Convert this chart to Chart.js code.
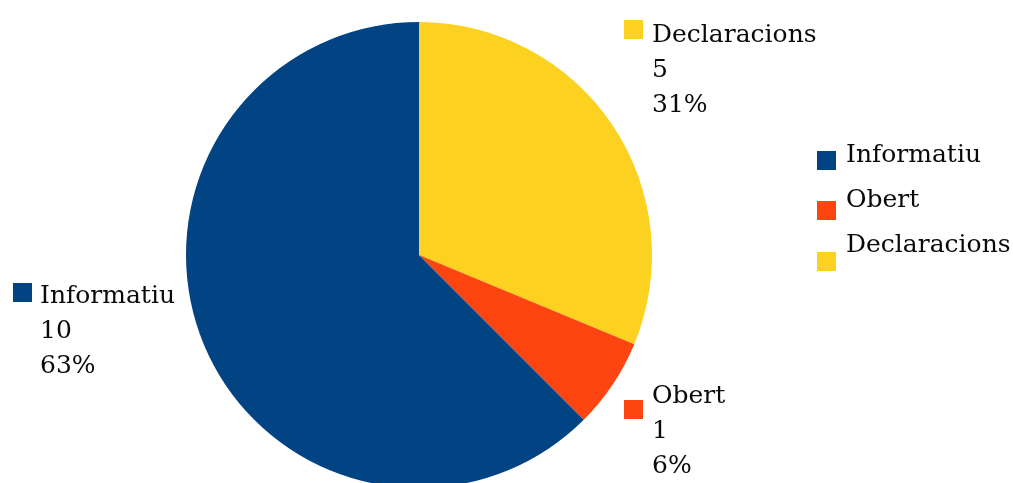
<!DOCTYPE html>
<html>
<head>
<meta charset="utf-8">
<title>Informatiu / Obert / Declaracions</title>
<script src="https://cdn.jsdelivr.net/npm/chart.js@4/dist/chart.umd.min.js"></script>
<style>
  html, body { margin: 0; padding: 0; background: #ffffff; overflow: hidden; }
  #wrap { position: relative; width: 1013px; height: 500px; }
</style>
</head>
<body>
<div id="wrap"><canvas id="pie"></canvas></div>
<script>
// Categories and counts
const categories = ['Informatiu', 'Obert', 'Declaracions'];
const counts = [10, 1, 5];
const sliceColors = ['#024384', '#FD4512', '#FDD11F'];

// Slices are drawn clockwise from the top starting with the last category
const drawOrder = [2, 1, 0];

const FONT = '"DejaVu Serif", "Liberation Serif", serif';
const FONT_SIZE = 25;
const TEXT_COLOR = '#0a0a0a';
const LINE_H = 35;

// Label placement relative to the pie centre (px): square top-left, text start
const labelPlacement = {
  'Declaracions': { sq: [205, -235], tx: [233, -213] },
  'Obert':        { sq: [205, 145],  tx: [233, 148] },
  'Informatiu':   { sq: [-406, 28],  tx: [-379, 48] }
};

// Legend entries on the right (canvas px)
const legendRows = [
  { sqTop: 151, baseline: 162 },
  { sqTop: 201, baseline: 207 },
  { sqTop: 252, baseline: 252 }
];
const LEGEND_SQ_X = 817, LEGEND_TX_X = 846, SQ = 19;

const total = counts.reduce((a, b) => a + b, 0);

const sliceLabels = {
  id: 'sliceLabels',
  afterDatasetsDraw(chart) {
    const ctx = chart.ctx;
    const meta = chart.getDatasetMeta(0);
    ctx.save();
    ctx.font = FONT_SIZE + 'px ' + FONT;
    ctx.textBaseline = 'alphabetic';
    ctx.textAlign = 'left';
    meta.data.forEach((arc, i) => {
      const idx = drawOrder[i];
      const name = categories[idx];
      const p = labelPlacement[name];
      const cx = arc.x, cy = arc.y;
      ctx.fillStyle = sliceColors[idx];
      ctx.fillRect(cx + p.sq[0], cy + p.sq[1], SQ, SQ);
      ctx.fillStyle = TEXT_COLOR;
      const pct = Math.round(counts[idx] / total * 100) + '%';
      [name, String(counts[idx]), pct].forEach((line, k) => {
        ctx.fillText(line, cx + p.tx[0], cy + p.tx[1] + k * LINE_H);
      });
    });
    // legend
    categories.forEach((name, i) => {
      const r = legendRows[i];
      ctx.fillStyle = sliceColors[i];
      ctx.fillRect(LEGEND_SQ_X, r.sqTop, SQ, SQ);
      ctx.fillStyle = TEXT_COLOR;
      ctx.fillText(name, LEGEND_TX_X, r.baseline);
    });
    ctx.restore();
  }
};

new Chart(document.getElementById('pie'), {
  type: 'pie',
  data: {
    labels: drawOrder.map(i => categories[i]),
    datasets: [{
      data: drawOrder.map(i => counts[i]),
      backgroundColor: drawOrder.map(i => sliceColors[i]),
      borderWidth: 0
    }]
  },
  options: {
    responsive: true,
    maintainAspectRatio: false,
    animation: false,
    rotation: 0,
    layout: { padding: { left: 186, right: 361, top: 22, bottom: 12 } },
    plugins: {
      legend: { display: false },
      tooltip: { enabled: false }
    }
  },
  plugins: [sliceLabels]
});
</script>
</body>
</html>
